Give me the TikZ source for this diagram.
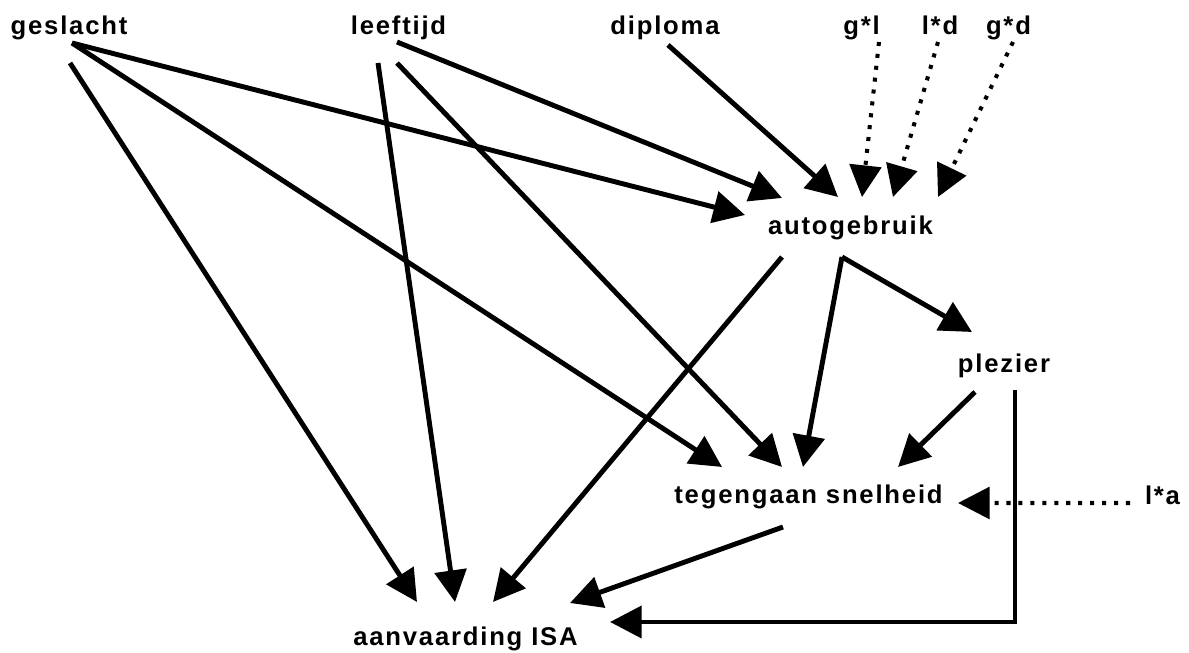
\documentclass[tikz,border=0pt]{standalone}
\usepackage{fontspec}
\setmainfont{Liberation Sans}[LetterSpace=7]
\usetikzlibrary{arrows.meta}

\begin{document}
\begin{tikzpicture}[
  var/.style={inner sep=0pt, anchor=base, font=\bfseries\fontsize{14.6}{16}\selectfont},
  effect/.style={line width=2.8pt, -{Triangle[length=18pt,width=18pt]}},
  interaction/.style={effect, line width=2.3pt, dash pattern=on 2.3pt off 4.5pt}]
  \useasboundingbox (0,0) rectangle (23.78,-13.06);
  % variables
  \node[var] (geslacht) at (1.38,-0.70) {geslacht};
  \node[var] (leeftijd) at (7.97,-0.70) {leeftijd};
  \node[var] (diploma) at (13.30,-0.70) {diploma};
  \node[var] (gl) at (17.23,-0.70) {g*l};
  \node[var] (ld) at (18.80,-0.70) {l*d};
  \node[var] (gd) at (20.17,-0.70) {g*d};
  \node[var] (autogebruik) at (17.01,-4.70) {autogebruik};
  \node[var] (plezier) at (20.08,-7.46) {plezier};
  \node[var] (tegengaan) at (16.17,-10.08) {tegengaan snelheid};
  \node[var] (la) at (23.25,-10.10) {l*a};
  \node[var] (aanvaarding) at (9.31,-12.90) {aanvaarding ISA};
  % effects on autogebruik
  \draw[effect] ([shift={(0.06,-0.16)}]geslacht.base) -- ([shift={(-2.11,0.40)}]autogebruik.base);
  \draw[effect] ([shift={(-0.03,-0.14)}]leeftijd.base) -- ([shift={(-1.37,0.74)}]autogebruik.base);
  \draw[effect] ([shift={(0.06,-0.20)}]diploma.base) -- ([shift={(-0.25,0.76)}]autogebruik.base);
  \draw[interaction] ([shift={(0.35,-0.14)}]gl.base) -- ([shift={(0.23,0.76)}]autogebruik.base);
  \draw[interaction] ([shift={(-0.04,-0.14)}]ld.base) -- ([shift={(0.85,0.76)}]autogebruik.base);
  \draw[interaction] ([shift={(0.09,-0.14)}]gd.base) -- ([shift={(1.75,0.76)}]autogebruik.base);
  % effects on plezier and tegengaan snelheid
  \draw[effect] ([shift={(-0.17,-0.44)}]autogebruik.base) -- ([shift={(-0.64,0.82)}]plezier.base);
  \draw[effect] ([shift={(0.06,-0.16)}]geslacht.base) -- ([shift={(-1.73,0.74)}]tegengaan.base);
  \draw[effect] ([shift={(-0.03,-0.56)}]leeftijd.base) -- ([shift={(-0.53,0.74)}]tegengaan.base);
  \draw[effect] ([shift={(-0.17,-0.44)}]autogebruik.base) -- ([shift={(-0.11,0.74)}]tegengaan.base);
  \draw[effect] ([shift={(-0.58,-0.38)}]plezier.base) -- ([shift={(1.79,0.74)}]tegengaan.base);
  \draw[interaction] ([shift={(-0.65,0.04)}]la.base) -- ([shift={(2.99,0.02)}]tegengaan.base);
  % effects on aanvaarding ISA
  \draw[effect] ([shift={(0.02,-0.56)}]geslacht.base) -- ([shift={(-0.97,0.86)}]aanvaarding.base);
  \draw[effect] ([shift={(-0.41,-0.56)}]leeftijd.base) -- ([shift={(-0.21,0.86)}]aanvaarding.base);
  \draw[effect] ([shift={(-1.37,-0.44)}]autogebruik.base) -- ([shift={(0.55,0.86)}]aanvaarding.base);
  \draw[effect] ([shift={(-0.51,-0.46)}]tegengaan.base) -- ([shift={(2.09,0.84)}]aanvaarding.base);
  \draw[effect] ([shift={(0.22,-0.34)}]plezier.base) |- ([shift={(2.89,0.46)}]aanvaarding.base);
\end{tikzpicture}
\end{document}
